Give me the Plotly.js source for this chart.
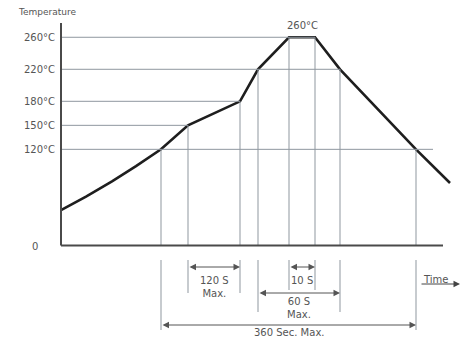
<!DOCTYPE html>
<html>
<head>
<meta charset="utf-8">
<script src="https://cdn.plot.ly/plotly-3.0.1.min.js"></script>
<style>html,body{margin:0;padding:0;background:#fff;}#chart{width:464px;height:339px;}</style>
</head>
<body>
<div id="chart"></div>
<script>
// ---- data (schematic reflow profile) ----
var timePts = [0, 25, 51, 75, 100, 127, 179, 197, 228, 254, 279, 355, 389];
var tempPts = [44, 61, 80, 99, 120, 150, 180, 220, 260, 260, 220, 120, 78];
var tempTicks = [120, 150, 180, 220, 260];
var tickLabels = ["120°C", "150°C", "180°C", "220°C", "260°C"];
var zeroLabel = "0";
var peakLabel = "260°C";
var yTitle = "Temperature";
var xTitle = "Time";
// dimension spans: indices into timePts
var spanFrom = [5, 8, 7, 4];
var spanTo = [6, 9, 10, 11];
var spanLabels = ["120 S<br>Max.", "10 S", "60 S<br>Max.", "360 Sec. Max."];
var guideIdx = [4, 5, 6, 7, 8, 9, 10, 11];

// ---- layout helpers ----
var W = 464, H = 339;
var Y0PX = 245.4, SCALE = 0.8005;          // pixel of temp 0, px per degree
function T(px) { return (Y0PX - px) / SCALE; }
var XMIN = -10, XMAX = 403, AXIS_END = 382;
var gridColor = "#8f979f", axisColor = "#4a4a4a", textColor = "#555";
var font = {family: "DejaVu Sans", size: 10, color: textColor};

var shapes = [];
var annotations = [];

// horizontal guide lines
tempTicks.forEach(function (lv, k) {
  var end = 0;
  for (var i = 0; i < timePts.length; i++) if (tempPts[i] === lv) end = Math.max(end, timePts[i]);
  if (k === 0) end += 17;
  shapes.push({type: "line", xref: "x", yref: "y", x0: 0, x1: end, y0: lv, y1: lv,
    line: {color: gridColor, width: 1}});
});
// vertical guide lines
guideIdx.forEach(function (i) {
  shapes.push({type: "line", xref: "x", yref: "y", x0: timePts[i], x1: timePts[i], y0: 0, y1: tempPts[i],
    line: {color: gridColor, width: 1}});
});
// axes
shapes.push({type: "line", xref: "x", yref: "y", x0: 0, x1: 0, y0: 0, y1: T(23), line: {color: axisColor, width: 2}});
shapes.push({type: "line", xref: "x", yref: "y", x0: 0, x1: AXIS_END, y0: 0, y1: 0, line: {color: axisColor, width: 2}});

// dimension extension lines and arrows
var extBottom = [T(293), T(290), T(312), T(330)];
var arrowY = [T(267), T(267), T(293), T(325)];
var labelY = [T(287), T(280), T(308), T(332)];
spanFrom.forEach(function (a, k) {
  var b = spanTo[k];
  [a, b].forEach(function (i) {
    shapes.push({type: "line", xref: "x", yref: "y", x0: timePts[i], x1: timePts[i], y0: T(260), y1: extBottom[k],
      line: {color: gridColor, width: 1}});
  });
  annotations.push({x: timePts[b], y: arrowY[k], ax: timePts[a], ay: arrowY[k], axref: "x", ayref: "y",
    xref: "x", yref: "y", text: "", showarrow: true, arrowside: "end+start", arrowhead: 2,
    arrowsize: 1.3, arrowwidth: 1, arrowcolor: "#555", standoff: 0, startstandoff: 0});
  annotations.push({x: (timePts[a] + timePts[b]) / 2, y: labelY[k], xref: "x", yref: "y",
    text: spanLabels[k], showarrow: false, font: font, align: "center"});
});

// tick labels
tempTicks.forEach(function (lv, k) {
  annotations.push({x: 0, y: lv, xref: "x", yref: "y", text: tickLabels[k], showarrow: false,
    xanchor: "right", xshift: -4, font: font});
});
annotations.push({x: 0, y: 0, xref: "x", yref: "y", text: zeroLabel, showarrow: false,
  xanchor: "right", xshift: -21, yshift: -1, font: font});
// titles
annotations.push({x: 0, y: T(12), xref: "x", yref: "y", text: yTitle, showarrow: false,
  xanchor: "center", xshift: -14, font: {family: "DejaVu Sans", size: 9, color: textColor}});
annotations.push({x: (timePts[8] + timePts[9]) / 2, y: 260, xref: "x", yref: "y", text: peakLabel,
  showarrow: false, yshift: 12, font: font});
annotations.push({x: AXIS_END - 8, y: T(279), xref: "x", yref: "y", text: xTitle, showarrow: false,
  font: font});
annotations.push({x: 399, y: T(284), ax: 359, ay: T(284), axref: "x", ayref: "y", xref: "x", yref: "y",
  text: "", showarrow: true, arrowhead: 2, arrowsize: 1.3, arrowwidth: 1, arrowcolor: "#444", standoff: 0});

var trace = {x: timePts, y: tempPts, type: "scatter", mode: "lines",
  line: {color: "#1e1e1e", width: 2.6}, hoverinfo: "skip"};

var layout = {
  width: W, height: H,
  margin: {l: 51, r: 0, t: 0, b: 0},
  paper_bgcolor: "#ffffff", plot_bgcolor: "#ffffff",
  showlegend: false,
  xaxis: {range: [XMIN, XMAX], visible: false, fixedrange: true},
  yaxis: {range: [T(H), T(0)], visible: false, fixedrange: true},
  shapes: shapes,
  annotations: annotations
};
Plotly.newPlot("chart", [trace], layout, {staticPlot: true, displayModeBar: false});
</script>
</body>
</html>
